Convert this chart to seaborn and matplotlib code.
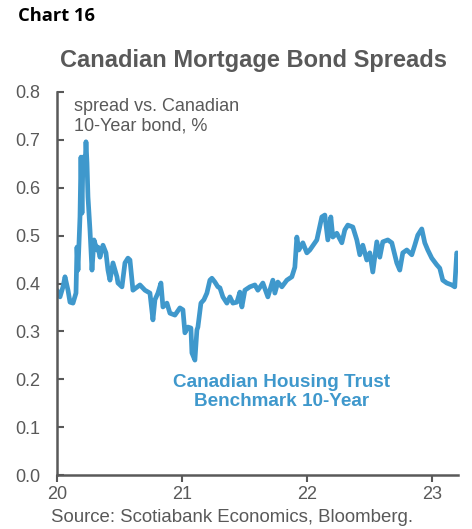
import matplotlib
matplotlib.use("Agg")
import matplotlib.pyplot as plt
import seaborn as sns
import pandas as pd

# Spread of the Canada Housing Trust 10-year benchmark over the Canadian 10-year bond, %
year = [
    20.000, 20.024, 20.048, 20.064, 20.088, 20.104, 20.128, 20.152, 20.160, 20.168,
    20.184, 20.192, 20.200, 20.208, 20.224, 20.232, 20.240, 20.248, 20.264, 20.280,
    20.296, 20.320, 20.328, 20.344, 20.368, 20.392, 20.408, 20.424, 20.448, 20.480,
    20.488, 20.520, 20.544, 20.568, 20.584, 20.608, 20.664, 20.704, 20.744, 20.768,
    20.784, 20.808, 20.832, 20.848, 20.880, 20.904, 20.944, 20.984, 21.008, 21.024,
    21.048, 21.072, 21.080, 21.104, 21.120, 21.128, 21.152, 21.176, 21.200, 21.224,
    21.240, 21.264, 21.288, 21.304, 21.328, 21.360, 21.384, 21.408, 21.440, 21.464,
    21.480, 21.504, 21.544, 21.584, 21.608, 21.648, 21.688, 21.728, 21.744, 21.768,
    21.800, 21.840, 21.880, 21.904, 21.920, 21.936, 21.968, 22.000, 22.024, 22.064,
    22.080, 22.120, 22.144, 22.168, 22.192, 22.208, 22.240, 22.280, 22.304, 22.328,
    22.368, 22.400, 22.424, 22.448, 22.480, 22.504, 22.528, 22.560, 22.584, 22.608,
    22.648, 22.680, 22.720, 22.744, 22.768, 22.800, 22.840, 22.864, 22.888, 22.920,
    22.944, 22.968, 23.000, 23.040, 23.064, 23.088, 23.120, 23.160, 23.184, 23.200,
    23.224,
]
spread = [
    0.386, 0.372, 0.393, 0.414, 0.386, 0.361, 0.359, 0.380, 0.476, 0.428,
    0.539, 0.664, 0.547, 0.664, 0.637, 0.696, 0.652, 0.581, 0.512, 0.428,
    0.491, 0.470, 0.476, 0.455, 0.480, 0.464, 0.428, 0.407, 0.443, 0.414,
    0.401, 0.393, 0.443, 0.453, 0.449, 0.386, 0.397, 0.386, 0.380, 0.324,
    0.366, 0.380, 0.401, 0.351, 0.359, 0.338, 0.334, 0.349, 0.345, 0.297,
    0.309, 0.307, 0.255, 0.240, 0.303, 0.309, 0.359, 0.366, 0.380, 0.407,
    0.411, 0.403, 0.393, 0.391, 0.372, 0.359, 0.372, 0.359, 0.361, 0.382,
    0.351, 0.386, 0.393, 0.397, 0.386, 0.401, 0.372, 0.407, 0.380, 0.403,
    0.393, 0.407, 0.414, 0.434, 0.497, 0.470, 0.485, 0.464, 0.470, 0.485,
    0.491, 0.539, 0.543, 0.491, 0.539, 0.497, 0.505, 0.485, 0.512, 0.522,
    0.518, 0.491, 0.460, 0.480, 0.449, 0.464, 0.424, 0.487, 0.455, 0.487,
    0.491, 0.485, 0.443, 0.428, 0.464, 0.470, 0.460, 0.480, 0.501, 0.514,
    0.485, 0.470, 0.453, 0.439, 0.432, 0.407, 0.401, 0.397, 0.393, 0.464,
    0.453,
]
x_ticks = [20, 21, 22, 23]
y_ticks = [0.0, 0.1, 0.2, 0.3, 0.4, 0.5, 0.6, 0.7, 0.8]

sns.set_theme(style="white")
plt.rcParams["font.family"] = ["Liberation Sans", "DejaVu Sans"]

GREY = "#595959"
BLUE = "#3f98cc"

df = pd.DataFrame({"year": year, "spread": spread})

fig = plt.figure(figsize=(4.72, 5.29), dpi=100)
ax = fig.add_axes([57 / 472, 1 - 475 / 529, (458 - 57) / 472, (475 - 92) / 529])

sns.lineplot(data=df, x="year", y="spread", ax=ax, color=BLUE, linewidth=3.4,
             solid_joinstyle="round", solid_capstyle="round")

ax.set_xlim(20, 23.21)
ax.set_ylim(0, 0.8)
ax.set_xticks(x_ticks)
ax.set_xticklabels([str(t) for t in x_ticks])
ax.set_yticks(y_ticks)
ax.set_yticklabels([f"{t:.1f}" for t in y_ticks])
ax.set_xlabel("")
ax.set_ylabel("")

for side in ["top", "right"]:
    ax.spines[side].set_visible(False)
for side in ["left", "bottom"]:
    ax.spines[side].set_color(GREY)
    ax.spines[side].set_linewidth(1.8)

ax.tick_params(axis="y", direction="in", length=5, width=1.5, color=GREY,
               labelcolor=GREY, labelsize=13, pad=12, left=True)
ax.tick_params(axis="x", direction="out", length=5, width=1.5, color=GREY,
               labelcolor=GREY, labelsize=13, pad=3, bottom=True)

ax.text(0.042, 0.985, "spread vs. Canadian\n10-Year bond, %", transform=ax.transAxes,
        ha="left", va="top", fontsize=13, color=GREY, linespacing=1.2)
ax.text(0.56, 0.217, "Canadian Housing Trust\nBenchmark 10-Year", transform=ax.transAxes,
        ha="center", va="center", fontsize=13.6, fontweight="bold", color=BLUE,
        linespacing=1.15)

fig.text(18 / 472, 1 - 16 / 529, "Chart 16", ha="left", va="center",
         fontsize=13.2, fontweight="bold", color="black", family=["Open Sans", "DejaVu Sans"])
fig.text(254 / 472, 1 - 60 / 529, "Canadian Mortgage Bond Spreads", ha="center",
         va="center", fontsize=17, fontweight="bold", color=GREY)
fig.text(51 / 472, 1 - 517 / 529, "Source: Scotiabank Economics, Bloomberg.",
         ha="left", va="center", fontsize=13.4, color=GREY)

fig.savefig("out.png", dpi=100)
